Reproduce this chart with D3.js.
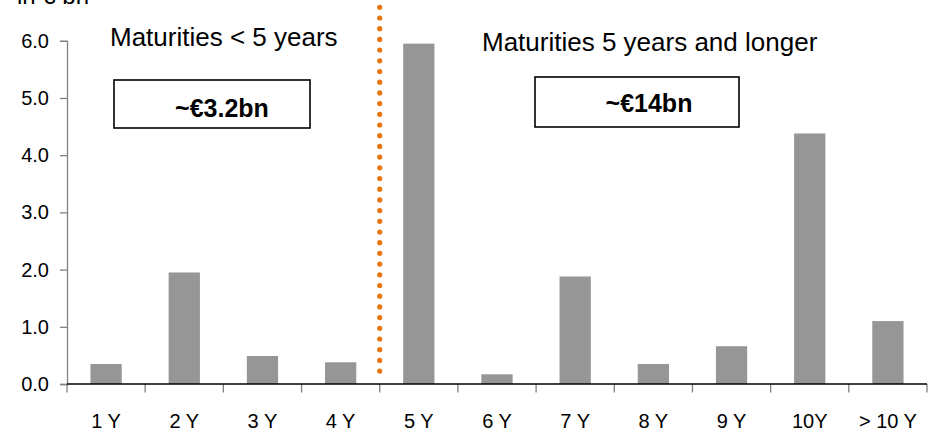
<!DOCTYPE html>
<html>
<head>
<meta charset="utf-8">
<script src="https://cdn.jsdelivr.net/npm/d3@7"></script>
<style>
  html, body { margin: 0; padding: 0; background: #fff; }
  svg { display: block; font-family: Arial, "Liberation Sans", sans-serif; }
</style>
</head>
<body>
<svg id="chart" width="945" height="433"></svg>
<script>
// Bond maturity profile, in € bn
const categories = ["1 Y", "2 Y", "3 Y", "4 Y", "5 Y", "6 Y", "7 Y", "8 Y", "9 Y", "10Y", "> 10 Y"];
const values = [0.35, 1.95, 0.49, 0.38, 5.95, 0.17, 1.88, 0.35, 0.66, 4.38, 1.10];
const yTicks = [0, 1, 2, 3, 4, 5, 6];
const unitLabel = "in € bn";
const groupTitles = ["Maturities < 5 years", "Maturities 5 years and longer"];
const groupTotals = ["~€3.2bn", "~€14bn"];
const splitCategory = "5 Y";

const svg = d3.select("#chart");
const margin = { left: 67, right: 18, top: 40.8, bottom: 49 };
const W = 945, H = 433;

const x = d3.scaleBand()
  .domain(categories)
  .range([margin.left, W - margin.right])
  .paddingInner(0.6)
  .paddingOuter(0.3);

const y = d3.scaleLinear()
  .domain([0, 6])
  .range([H - margin.bottom, margin.top]);

const step = x.step();
const gap = step - x.bandwidth();
// left edge of each category cell
const cellLeft = c => x(c) - gap / 2;

// Bars
svg.append("g")
  .selectAll("rect")
  .data(values)
  .join("rect")
  .attr("x", (d, i) => x(categories[i]))
  .attr("y", d => y(d))
  .attr("width", x.bandwidth())
  .attr("height", d => y(0) - y(d))
  .attr("fill", "#969696");

// Y axis
const yAxis = svg.append("g")
  .attr("transform", `translate(${margin.left},0)`)
  .call(d3.axisLeft(y).tickValues(yTicks).tickFormat(d3.format(".1f")).tickSize(7).tickPadding(11));
yAxis.select(".domain").attr("stroke", "#808080").attr("stroke-width", 1.3);
yAxis.selectAll(".tick line").attr("stroke", "#808080").attr("stroke-width", 1.3);
yAxis.selectAll(".tick text").attr("font-size", 20).attr("fill", "#000")
  .attr("font-family", "Arial, 'Liberation Sans', sans-serif");

// X axis: cell boundary ticks, baseline, category labels
const boundaries = categories.map(cellLeft).concat([cellLeft(categories[categories.length - 1]) + step]);
svg.append("g")
  .selectAll("line")
  .data(boundaries)
  .join("line")
  .attr("x1", d => d).attr("x2", d => d)
  .attr("y1", y(0)).attr("y2", y(0) + 8.5)
  .attr("stroke", "#808080").attr("stroke-width", 1.3);

svg.append("line")
  .attr("x1", boundaries[0]).attr("x2", boundaries[boundaries.length - 1])
  .attr("y1", y(0)).attr("y2", y(0))
  .attr("stroke", "#000").attr("stroke-width", 1.3);

svg.append("g")
  .selectAll("text")
  .data(categories)
  .join("text")
  .attr("x", d => x(d) + x.bandwidth() / 2)
  .attr("y", 428)
  .attr("text-anchor", "middle")
  .attr("font-size", 20)
  .attr("fill", "#000")
  .text(d => d);

// Dotted divider between short and long maturities
const splitX = cellLeft(splitCategory);
svg.append("line")
  .attr("x1", splitX).attr("x2", splitX)
  .attr("y1", 7.3).attr("y2", y(0) - 2.2)
  .attr("stroke", "#E8760F")
  .attr("stroke-width", 5.2)
  .attr("stroke-linecap", "round")
  .attr("stroke-dasharray", "0 10.7");

// Unit label (top left)
svg.append("text")
  .attr("x", 17).attr("y", 4)
  .attr("font-size", 24)
  .attr("fill", "#000")
  .text(unitLabel);

// Group titles
svg.append("text").attr("x", 110).attr("y", 46).attr("font-size", 26).attr("fill", "#000").text(groupTitles[0]);
svg.append("text").attr("x", 482).attr("y", 51).attr("font-size", 26).attr("fill", "#000").text(groupTitles[1]);

// Group total boxes
const boxes = [
  { x: 114, y: 80, w: 196, h: 48, tx: 222, ty: 117, label: groupTotals[0] },
  { x: 535, y: 77, w: 204, h: 50, tx: 649, ty: 112, label: groupTotals[1] }
];
const bg = svg.append("g");
bg.selectAll("rect")
  .data(boxes)
  .join("rect")
  .attr("x", d => d.x).attr("y", d => d.y)
  .attr("width", d => d.w).attr("height", d => d.h)
  .attr("fill", "#fff").attr("stroke", "#000").attr("stroke-width", 1.6);
bg.selectAll("text")
  .data(boxes)
  .join("text")
  .attr("x", d => d.tx).attr("y", d => d.ty)
  .attr("text-anchor", "middle")
  .attr("font-size", 25)
  .attr("font-weight", "bold")
  .attr("fill", "#000")
  .text(d => d.label);
</script>
</body>
</html>
